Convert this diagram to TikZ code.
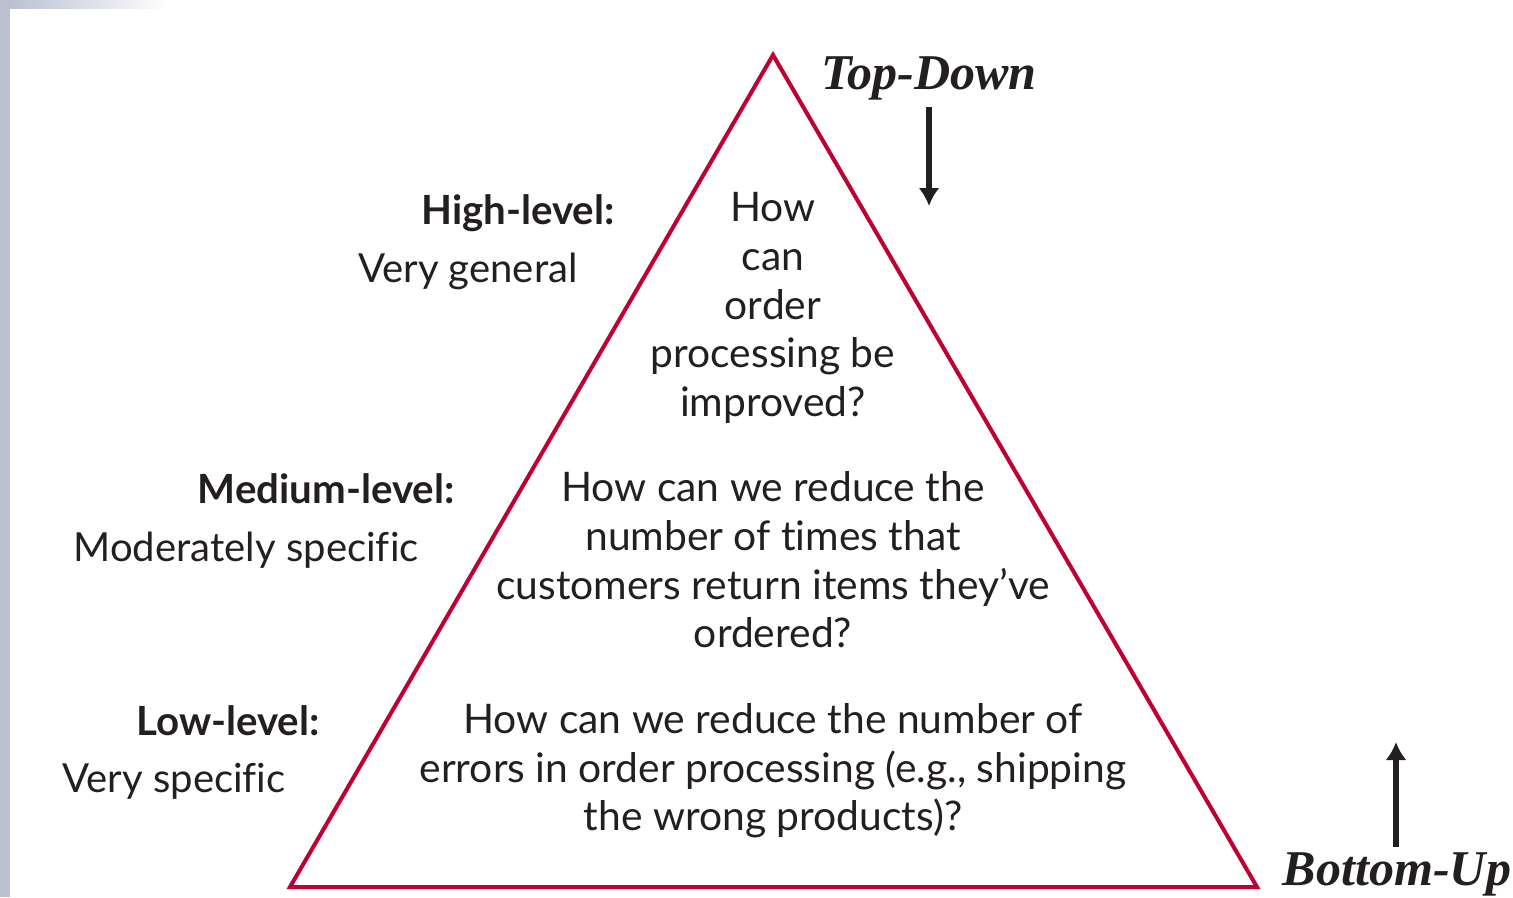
\documentclass[tikz,border=0pt]{standalone}
\usepackage{fontspec}
\setmainfont[Ligatures={NoCommon}]{Lato}
\newfontfamily\directionfont{Liberation Serif}
\usetikzlibrary{arrows.meta,positioning}
\definecolor{pyramid-red}{RGB}{190,0,50}
\definecolor{frame-gray}{RGB}{188,193,210}
\definecolor{text-dark}{RGB}{35,31,32}
\tikzset{
    question-text/.style = {align=center, text=text-dark, inner sep=0pt, font=\fontsize{23.2}{27.7}\selectfont},
    level-title/.style = {anchor=east, text=text-dark, inner sep=0pt, font=\fontsize{22.9}{27.7}\selectfont\bfseries},
    level-desc/.style = {anchor=east, text=text-dark, inner sep=0pt, font=\fontsize{22.8}{27.7}\selectfont},
    direction-label/.style = {text=text-dark, inner sep=0pt, font=\directionfont\fontsize{28.5}{30}\selectfont\bfseries\itshape},
    direction-arrow/.style = {draw=text-dark, line width=3.4pt, -{Latex[length=0.36cm, width=0.42cm]}},
}

\begin{document}
\begin{tikzpicture}[x=0.02cm, y=-0.02cm]
\useasboundingbox (0,0) rectangle (1513,897);
\fill[frame-gray] (0,0) rectangle (10,897);
\shade[left color=frame-gray, right color=white] (10,0) rectangle (170,8);

% the pyramid
\coordinate (apex) at (773,55);
\coordinate (base-left) at (290,887);
\coordinate (base-right) at (1257,887);
\draw[pyramid-red, line width=2.3pt, line join=miter] (apex) -- (base-right) -- (base-left) -- cycle;

% questions inside
\node[question-text] (q-high) at (773,308) {How\\can\\order\\processing be\\improved?};
\node[question-text] (q-medium) at (773,560) {How can we reduce the\\number of times that\\customers return items they've\\ordered?};
\node[question-text] (q-low) at (773,771) {How can we reduce the number of\\errors in order processing (e.g., shipping\\the wrong products)?};

% level labels
\node[level-title] (high-title) at (615,213) {High-level:};
\node[level-desc] (high-desc) at (578,271) {Very general};
\node[level-title] (medium-title) at (455,489) {Medium-level:};
\node[level-desc] (medium-desc) at (419,550) {Moderately specific};
\node[level-title] (low-title) at (320,721) {Low-level:};
\node[level-desc] (low-desc) at (286,781) {Very specific};

% directions
\node[direction-label] (top-down) at (929,78) {Top-Down};
\coordinate (top-down-start) at (929,107);
\coordinate (top-down-end) at (929,206);
\draw[direction-arrow] (top-down-start) -- (top-down-end);

\node[direction-label] (bottom-up) at (1397,874) {Bottom-Up};
\coordinate (bottom-up-start) at (1396,847);
\coordinate (bottom-up-end) at (1396,742);
\draw[direction-arrow] (bottom-up-start) -- (bottom-up-end);
\end{tikzpicture}
\end{document}
